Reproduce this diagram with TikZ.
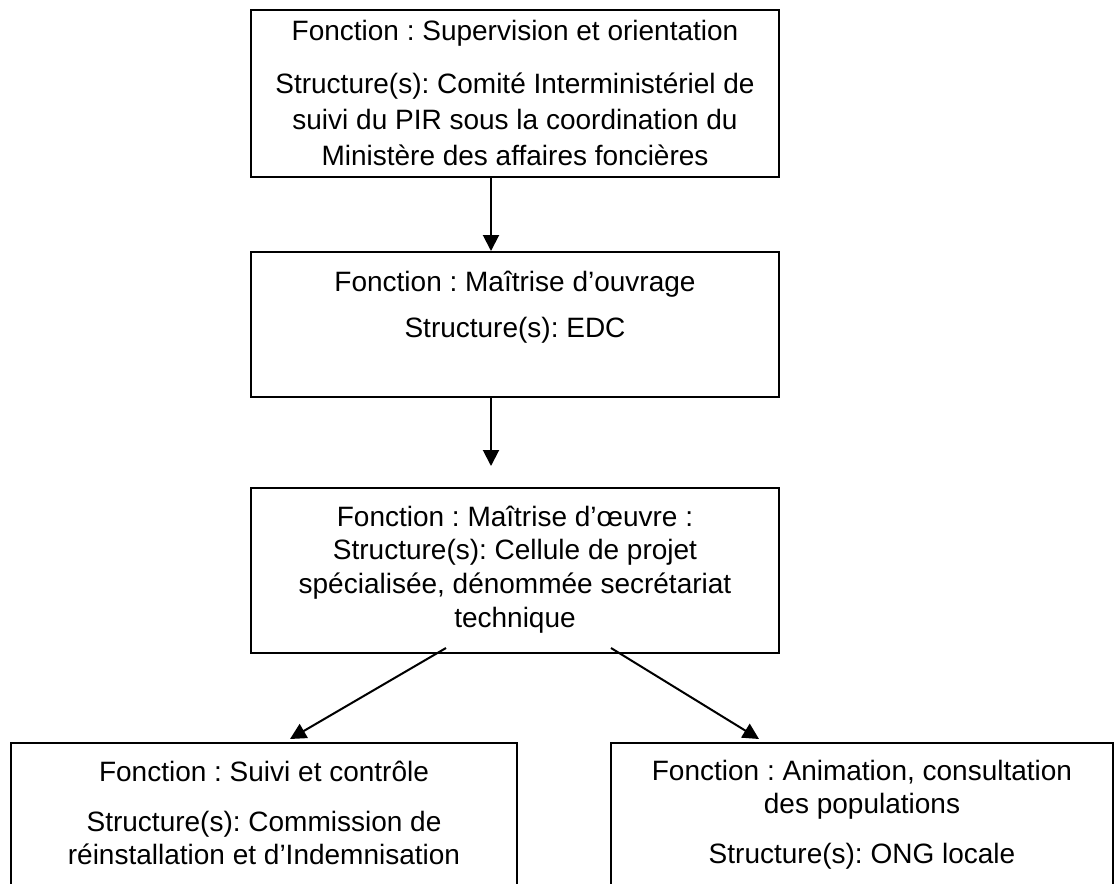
\documentclass[tikz,border=0pt]{standalone}
\usepackage{fontspec}
\setmainfont{Liberation Sans}
\usetikzlibrary{arrows.meta}
\frenchspacing
\begin{document}
\begin{tikzpicture}[x=0.5pt,y=-0.5pt,
  box/.style={draw=black,line width=1pt,rectangle,inner sep=0pt},
  txt/.style={anchor=base,inner sep=0pt,font=\fontsize{14}{16}\selectfont},
  arr/.style={-{Triangle[length=8pt,width=8pt]},line width=1pt}]
\useasboundingbox (0,0) rectangle (1115,884);
\clip (0,0) rectangle (1115,884);
% boxes
\node[box,minimum width=264pt,minimum height=83.5pt] (b1) at (515,93.5) {};
\node[box,minimum width=264pt,minimum height=72.5pt] (b2) at (515,324.5) {};
\node[box,minimum width=264pt,minimum height=82.5pt] (b3) at (515,570.5) {};
\node[box,minimum width=253pt,minimum height=100pt] (b4) at (264,843) {};
\node[box,minimum width=251pt,minimum height=100pt] (b5) at (862,843) {};
% texts box 1
\node[txt] (t1a) at (515,40) {Fonction : Supervision et orientation};
\node[txt] (t1b) at (515,93) {Structure(s): Comité Interministériel de};
\node[txt] (t1c) at (515,129) {suivi du PIR sous la coordination du};
\node[txt] (t1d) at (515,165) {Ministère des affaires foncières};
% texts box 2
\node[txt] (t2a) at (515,291) {Fonction : Maîtrise d’ouvrage};
\node[txt] (t2b) at (515,337) {Structure(s): EDC};
% texts box 3
\node[txt] (t3a) at (515,526) {Fonction : Maîtrise d’œuvre :};
\node[txt] (t3b) at (515,559) {Structure(s): Cellule de projet};
\node[txt] (t3c) at (515,593) {spécialisée, dénommée secrétariat};
\node[txt] (t3d) at (515,627) {technique};
% texts box 4
\node[txt] (t4a) at (264,781) {Fonction : Suivi et contrôle};
\node[txt] (t4b) at (264,831) {Structure(s): Commission de};
\node[txt] (t4c) at (264,864) {réinstallation et d’Indemnisation};
% texts box 5
\node[txt] (t5a) at (862,780) {Fonction : Animation, consultation};
\node[txt] (t5b) at (862,813) {des populations};
\node[txt] (t5c) at (862,863) {Structure(s): ONG locale};
% connectors
\draw[arr] ([xshift=-12pt]b1.south) -- ([xshift=-12pt]b2.north);
\draw[arr] ([xshift=-12pt]b2.south) -- ([xshift=-12pt,yshift=10.5pt]b3.north);
\draw[arr] ([xshift=-34.5pt,yshift=3pt]b3.south) -- ([xshift=13pt,yshift=1.5pt]b4.north);
\draw[arr] ([xshift=48pt,yshift=3pt]b3.south) -- ([xshift=-51.5pt,yshift=1.5pt]b5.north);
\end{tikzpicture}
\end{document}
